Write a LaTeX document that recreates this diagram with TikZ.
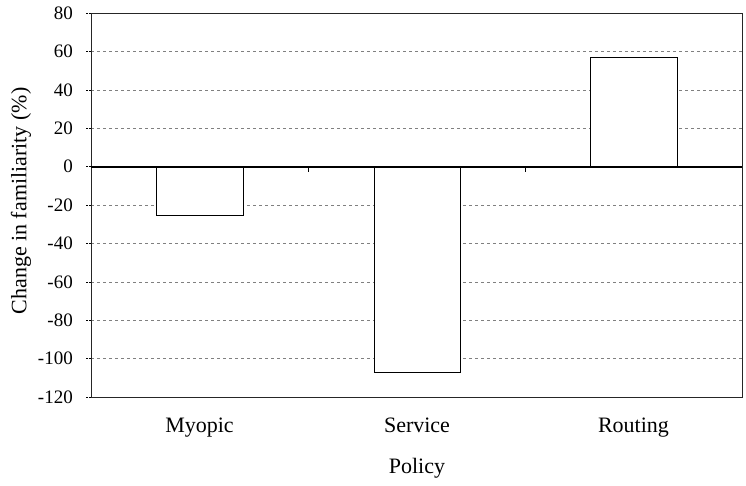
\documentclass[tikz,border=0pt]{standalone}
\usepackage{fontspec}
\setmainfont{Liberation Serif}
\tikzset{
  gridline/.style={gray, dashed, line width=0.6pt},
  frame/.style={black!85, line width=0.8pt},
  bar/.style={draw=black, fill=white, line width=0.9pt},
  ticklabel/.style={font=\fontsize{19}{21}\selectfont, anchor=east, inner sep=0pt},
  catlabel/.style={font=\fontsize{22}{24}\selectfont, anchor=base},
}
\begin{document}
\begin{tikzpicture}[x=1pt, y=1.92pt]
\useasboundingbox (-91,86.8) rectangle (655,-166.3);
\foreach \v in {-100,-80,...,60}
  \draw[gridline] (0,\v) -- (651,\v);
\foreach \v [count=\i] in {-120,-100,...,80} {
  \draw[densely dotted] (-5,\v) -- (0,\v);
  \node[ticklabel] (ytick\i) at (-18,\v) {\v};
}
\draw[bar] (65.7,0) rectangle (152.7,-25.2);
\draw[bar] (283,0) rectangle (369,-107.2);
\draw[bar] (499,0) rectangle (586,57);
\draw[frame] (0,-120) rectangle (651,80);
\draw[line width=1.8pt] (0,0) -- (651,0);
\foreach \x in {217,434}
  \draw[line width=0.8pt] (\x,0) -- (\x,-2.6);
\node[catlabel] (myopic) at (108.5,-138.7) {Myopic};
\node[catlabel] (service) at (326,-138.7) {Service};
\node[catlabel] (routing) at (542.5,-138.7) {Routing};
\node[catlabel] (policy) at (326,-160) {Policy};
\node[rotate=90, font=\fontsize{22}{24}\selectfont] (ylabel) at (-70,-17.9) {Change in familiarity (\%)};
\end{tikzpicture}
\end{document}
